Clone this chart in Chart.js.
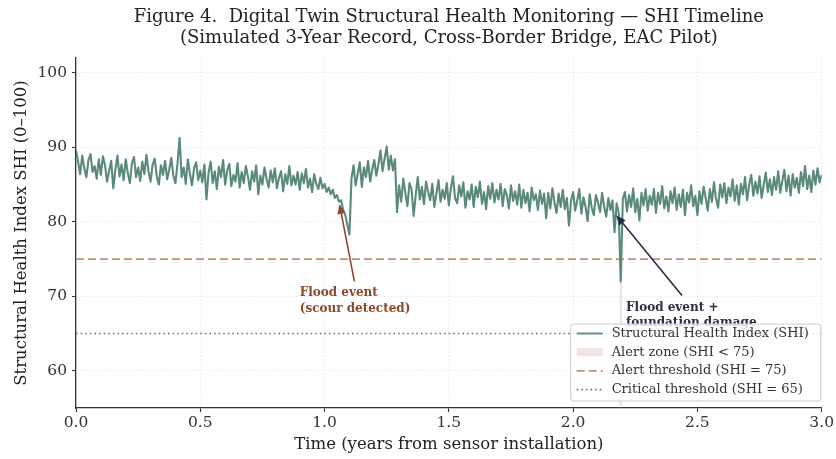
<!DOCTYPE html>
<html>
<head>
<meta charset="utf-8">
<script src="https://cdn.jsdelivr.net/npm/chart.js@4.4.1/dist/chart.umd.min.js"></script>
<style>
  html, body { margin: 0; padding: 0; background: #fff; }
</style>
</head>
<body>
<canvas id="shiChart" width="836" height="459"></canvas>
<script>
// one reading every 1/120 year (about 3 days), 0.0 -> 3.0 years
var timeStep = 1 / 120;
var shiValues = [
  89.6, 88.1, 86.4, 88.9, 87.2, 86.0, 88.3, 89.1, 86.7, 87.5, 85.8, 88.4,
  86.3, 88.8, 87.6, 85.4, 86.9, 88.2, 84.5, 87.0, 88.9, 86.1, 87.7, 85.6,
  88.4, 86.6, 85.2, 87.9, 88.7, 86.0, 87.3, 85.5, 88.1, 86.4, 89.0, 86.8,
  85.4, 87.7, 88.5, 86.1, 85.0, 87.6, 86.3, 88.2, 85.7, 87.0, 88.6, 86.2,
  85.2, 87.8, 91.3, 86.0, 87.3, 85.1, 88.4, 86.5, 84.9, 87.2, 88.0, 85.6,
  86.9, 85.3, 87.7, 83.0, 86.6, 88.1, 85.2, 86.8, 84.4, 87.4, 86.0, 88.3,
  85.0, 86.9, 87.8, 84.8, 86.3, 85.4, 87.9, 84.6, 86.7, 85.2, 87.5, 86.1,
  84.3, 86.8, 85.4, 87.6, 83.7, 86.2, 85.0, 87.3, 85.8, 84.6, 86.9, 85.3,
  87.2, 84.5, 85.9, 86.8, 84.1, 86.4, 85.1, 87.5, 84.9, 86.2, 85.0, 86.7,
  84.3, 86.5, 85.2, 87.1, 84.6, 85.8, 84.0, 86.4, 85.1, 84.4, 85.9, 84.5,
  85.1, 84.0, 84.6, 83.7, 84.3, 83.2, 83.6, 82.7, 82.9, 81.6, 80.9, 79.6,
  78.3, 85.8, 87.6, 84.9, 86.4, 88.0, 84.7, 87.3, 86.0, 88.2, 85.4, 87.0,
  88.3, 86.2, 87.7, 89.6, 86.8, 88.5, 90.1, 87.0, 88.9, 86.9, 88.4, 81.3,
  84.9, 82.7, 85.8, 83.9, 82.1, 85.2, 84.4, 80.8, 83.6, 86.0, 83.0, 84.7,
  82.4, 85.4, 84.0, 82.9, 85.1, 82.0, 83.8, 85.6, 82.7, 84.3, 83.1, 85.2,
  82.2, 84.6, 86.1, 83.2, 82.5, 84.9, 83.4, 85.3, 81.9, 84.1, 83.0, 85.0,
  82.0, 84.7, 83.3, 85.4, 82.4, 84.0, 81.7, 84.8, 83.1, 85.2, 82.6, 84.3,
  83.0, 85.1, 82.1, 84.4, 83.6, 81.8, 84.9, 82.8, 84.1, 82.3, 85.0, 81.9,
  84.3, 82.5, 83.9, 81.4, 84.6, 82.9, 83.7, 81.6, 84.2, 82.4, 83.8, 80.5,
  83.9, 81.8, 84.5, 82.6, 81.2, 83.8, 82.0, 84.3, 81.7, 83.2, 79.5, 82.8,
  84.0, 81.5, 82.9, 84.4, 81.1, 83.3, 82.0, 80.1, 83.7, 81.9, 80.9, 83.6,
  82.6, 81.3, 83.9, 82.0, 80.7, 83.2, 81.6, 82.9, 78.6, 82.5, 81.2, 72.0,
  83.1, 84.0, 81.4, 83.6, 82.0, 84.5, 81.3, 83.1, 80.2, 83.9, 82.2, 84.4,
  81.5, 83.5, 82.3, 84.4, 81.2, 83.9, 82.4, 84.8, 81.8, 83.4, 81.4, 84.1,
  82.5, 84.6, 81.6, 83.7, 82.0, 84.3, 80.9, 83.9, 82.6, 84.9, 82.1, 83.5,
  80.9, 84.1, 82.4, 84.7, 83.2, 81.5, 84.4, 82.7, 85.3, 83.1, 81.9, 85.0,
  83.3, 85.2, 82.5, 84.6, 83.4, 85.7, 82.8, 84.9, 82.3, 85.1, 83.7, 86.0,
  82.9, 85.0, 86.3, 83.5, 85.4, 83.8, 86.1, 83.2, 84.9, 86.6, 84.0, 85.7,
  83.6, 86.0, 84.3, 86.8, 83.9, 85.5, 87.0, 84.1, 86.2, 83.5, 86.4, 84.6,
  85.9, 83.9, 86.7, 84.8, 87.5, 84.4, 86.2, 84.0, 86.9, 85.0, 87.2, 85.3,
  86.3
];
var xTicks = [0, 0.5, 1, 1.5, 2, 2.5, 3];
var yTicks = [60, 70, 80, 90, 100];
var alertLevel = 75;
var criticalLevel = 65;

var titleLines = [
  'Figure 4.  Digital Twin Structural Health Monitoring \u2014 SHI Timeline',
  '(Simulated 3-Year Record, Cross-Border Bridge, EAC Pilot)'
];

// annotations in data units: text anchor, arrow tail and arrow tip
var notes = [
  { lines: ['Flood event', '(scour detected)'], text: [0.9, 70.4], tail: [1.12, 72.0], tip: [1.06, 82.4], color: '#8b4a2b' },
  { lines: ['Flood event +', 'foundation damage'], text: [2.213, 68.5], tail: [2.438, 70.1], tip: [2.173, 80.9], color: '#2c2c44' }
];

var serif = '"DejaVu Serif", serif';
var green = '#5a8a78';

document.addEventListener('DOMContentLoaded', function() {
  var shiPoints = shiValues.map(function(v, i) { return { x: i * timeStep, y: v }; });

  // shaded strip wherever the index falls under the alert level
  var zonePoints = [];
  shiPoints.forEach(function(p) {
    if (p.y < alertLevel) {
      zonePoints.push({ x: p.x - timeStep * 0.6, y: alertLevel });
      zonePoints.push({ x: p.x + timeStep * 0.6, y: alertLevel });
      zonePoints.push({ x: p.x + timeStep * 0.7, y: null });
    }
  });

  var lastT = (shiValues.length - 1) * timeStep;

  var overlay = {
    id: 'overlay',
    afterDatasetsDraw: function(chart) {
      var ctx = chart.ctx, xs = chart.scales.x, ys = chart.scales.y;
      notes.forEach(function(n) {
        var x1 = xs.getPixelForValue(n.tail[0]), y1 = ys.getPixelForValue(n.tail[1]);
        var x2 = xs.getPixelForValue(n.tip[0]), y2 = ys.getPixelForValue(n.tip[1]);
        var ang = Math.atan2(y2 - y1, x2 - x1);
        ctx.save();
        ctx.strokeStyle = n.color;
        ctx.fillStyle = n.color;
        ctx.lineWidth = 1.6;
        ctx.beginPath();
        ctx.moveTo(x1, y1);
        ctx.lineTo(x2 - 8 * Math.cos(ang), y2 - 8 * Math.sin(ang));
        ctx.stroke();
        ctx.beginPath();
        ctx.moveTo(x2, y2);
        ctx.lineTo(x2 - 10 * Math.cos(ang) + 4 * Math.sin(ang), y2 - 10 * Math.sin(ang) - 4 * Math.cos(ang));
        ctx.lineTo(x2 - 10 * Math.cos(ang) - 4 * Math.sin(ang), y2 - 10 * Math.sin(ang) + 4 * Math.cos(ang));
        ctx.closePath();
        ctx.fill();
        ctx.font = 'bold 12px ' + serif;
        ctx.textAlign = 'left';
        ctx.textBaseline = 'middle';
        var tx = xs.getPixelForValue(n.text[0]), ty = ys.getPixelForValue(n.text[1]);
        n.lines.forEach(function(s, i) { ctx.fillText(s, tx, ty + i * 15.5); });
        ctx.restore();
      });
    },
    afterDraw: function(chart) {
      var ctx = chart.ctx, area = chart.chartArea;
      ctx.save();
      // title
      ctx.fillStyle = '#222';
      ctx.font = '18px ' + serif;
      ctx.textAlign = 'center';
      ctx.textBaseline = 'middle';
      var cx = (area.left + area.right) / 2;
      titleLines.forEach(function(s, i) { ctx.fillText(s, cx, 17 + i * 21); });

      // legend box
      var w = 250, h = 77;
      var x0 = area.right - w - 1, y0 = area.bottom - h - 7;
      ctx.beginPath();
      ctx.roundRect(x0, y0, w, h, 3);
      ctx.fillStyle = 'rgba(255,255,255,0.8)';
      ctx.fill();
      ctx.strokeStyle = '#cccccc';
      ctx.lineWidth = 1;
      ctx.stroke();
      ctx.font = '13px ' + serif;
      ctx.textAlign = 'left';
      ctx.textBaseline = 'middle';
      chart.data.datasets.forEach(function(ds, i) {
        var cy = y0 + 9.5 + i * 18.7;
        if (ds.isZone) {
          ctx.fillStyle = ds.backgroundColor;
          ctx.fillRect(x0 + 6, cy - 4, 26, 8);
        } else {
          ctx.beginPath();
          ctx.setLineDash(ds.borderDash || []);
          ctx.strokeStyle = ds.borderColor;
          ctx.lineWidth = Math.min(ds.borderWidth, 1.8);
          ctx.moveTo(x0 + 6, cy);
          ctx.lineTo(x0 + 32, cy);
          ctx.stroke();
          ctx.setLineDash([]);
        }
        ctx.fillStyle = '#333';
        ctx.fillText(ds.label, x0 + 41, cy);
      });
      ctx.restore();
    }
  };

  var ctx = document.getElementById('shiChart').getContext('2d');
  new Chart(ctx, {
    type: 'line',
    data: {
      datasets: [
        {
          label: 'Structural Health Index (SHI)',
          data: shiPoints,
          borderColor: green,
          borderWidth: 2.1,
          borderJoinStyle: 'round',
          pointRadius: 0,
          tension: 0,
          order: 0
        },
        {
          label: 'Alert zone (SHI < 75)',
          isZone: true,
          data: zonePoints,
          borderWidth: 0,
          borderColor: 'rgba(0,0,0,0)',
          backgroundColor: 'rgba(196,150,132,0.25)',
          fill: 'start',
          pointRadius: 0,
          spanGaps: false,
          order: 3
        },
        {
          label: 'Alert threshold (SHI = 75)',
          data: [{ x: 0, y: alertLevel }, { x: lastT, y: alertLevel }],
          borderColor: '#c0927e',
          borderWidth: 1.8,
          borderDash: [8, 4],
          pointRadius: 0,
          order: 1
        },
        {
          label: 'Critical threshold (SHI = 65)',
          data: [{ x: 0, y: criticalLevel }, { x: lastT, y: criticalLevel }],
          borderColor: '#707070',
          borderWidth: 1.6,
          borderDash: [1.6, 3],
          pointRadius: 0,
          order: 2
        }
      ]
    },
    options: {
      responsive: false,
      animation: false,
      layout: { padding: { top: 58, right: 13, left: 0, bottom: 0 } },
      plugins: { legend: { display: false }, title: { display: false }, tooltip: { enabled: false } },
      scales: {
        x: {
          type: 'linear',
          min: 0,
          max: 3,
          afterFit: function(s) { s.height = 51; },
          afterBuildTicks: function(s) { s.ticks = xTicks.map(function(v) { return { value: v }; }); },
          ticks: {
            color: '#333',
            font: { family: serif, size: 15.5 },
            padding: 2,
            maxRotation: 0,
            callback: function(v) { return Number(v).toFixed(1); }
          },
          grid: { color: 'rgba(0,0,0,0.14)', lineWidth: 0.8, tickColor: '#333', tickLength: 4, tickWidth: 1.1 },
          border: { display: true, color: '#333', width: 1.3, dash: [1, 2.5] },
          title: { display: true, text: 'Time (years from sensor installation)', color: '#222', font: { family: serif, size: 16.5 }, padding: { top: 0, bottom: 4 } }
        },
        y: {
          min: 55,
          max: 102,
          afterFit: function(s) { s.width = 76; },
          afterBuildTicks: function(s) { s.ticks = yTicks.map(function(v) { return { value: v }; }); },
          ticks: { color: '#333', font: { family: serif, size: 15.5 }, padding: 5 },
          grid: { color: 'rgba(0,0,0,0.14)', lineWidth: 0.8, tickColor: '#333', tickLength: 4, tickWidth: 1.1 },
          border: { display: true, color: '#333', width: 1.3, dash: [1, 2.5] },
          title: { display: true, text: 'Structural Health Index SHI (0\u2013100)', color: '#222', font: { family: serif, size: 16.5 }, padding: { top: 12, bottom: 0 } }
        }
      }
    },
    plugins: [overlay]
  });
});
</script>
</body>
</html>
